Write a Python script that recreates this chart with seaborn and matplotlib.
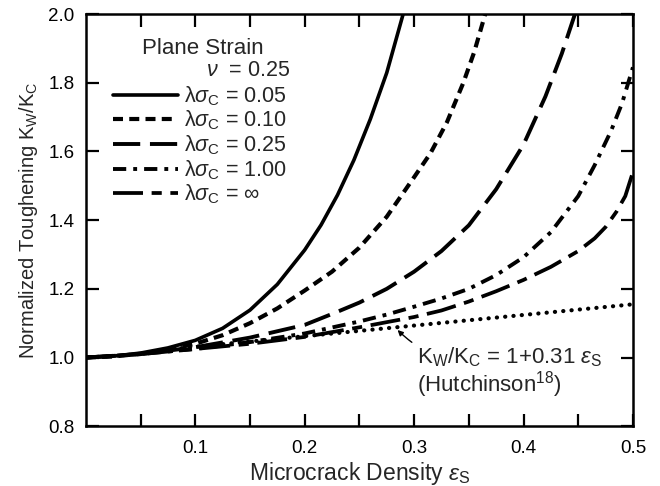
import matplotlib
matplotlib.use("Agg")
import matplotlib.pyplot as plt
import seaborn as sns
import pandas as pd

# curves (microcrack density vs normalized toughening)
eps_005 = [0, .025, .05, .075, .1, .125, .15, .175, .2, .215, .23, .245, .26, .275, .29]
k_005 = [1.0, 1.004, 1.013, 1.028, 1.05, 1.085, 1.138, 1.213, 1.313, 1.386, 1.473, 1.575, 1.694, 1.829, 2.0]

eps_010 = [0, .025, .05, .075, .1, .125, .15, .175, .2, .225, .25, .275, .3, .315, .33, .345, .355, .365]
k_010 = [1.0, 1.003, 1.011, 1.023, 1.04, 1.065, 1.10, 1.143, 1.195, 1.25, 1.32, 1.41, 1.525, 1.595, 1.685, 1.80, 1.89, 2.0]

eps_025 = [0, .05, .1, .15, .2, .229, .25, .275, .3, .325, .35, .375, .4, .42, .435, .447]
k_025 = [1.0, 1.01, 1.03, 1.058, 1.095, 1.132, 1.16, 1.20, 1.25, 1.31, 1.385, 1.49, 1.62, 1.76, 1.885, 2.0]

eps_100 = [0, .05, .1, .15, .2, .25, .275, .3, .325, .35, .375, .4, .425, .45, .465, .48, .49, .5]
k_100 = [1.0, 1.01, 1.025, 1.045, 1.07, 1.105, 1.125, 1.148, 1.172, 1.20, 1.24, 1.292, 1.365, 1.47, 1.56, 1.66, 1.74, 1.845]

eps_inf = [0, .05, .1, .15, .2, .25, .3, .325, .35, .375, .4, .425, .45, .465, .475, .485, .493, .5]
k_inf = [1.0, 1.01, 1.025, 1.04, 1.06, 1.088, 1.118, 1.137, 1.163, 1.193, 1.226, 1.264, 1.31, 1.347, 1.38, 1.425, 1.47, 1.54]

eps_hutch = [0.08, 0.5]
k_hutch = [1.025, 1.155]

labels = ["0.05", "0.10", "0.25", "1.00", r"$\infty$"]

sns.set_theme(style="ticks")
plt.rcParams["font.family"] = ["Liberation Sans", "DejaVu Sans"]
plt.rcParams["mathtext.fontset"] = "custom"
plt.rcParams["mathtext.rm"] = "Liberation Sans"
plt.rcParams["mathtext.it"] = "Liberation Sans:italic"

fig = plt.figure(figsize=(6.6, 4.86), dpi=100)
ax = fig.add_axes([0.130, 0.123, 0.829, 0.848])

curves = [
    (eps_005, k_005, None, 2.6),
    (eps_010, k_010, (2.4, 1.5), 3.0),
    (eps_025, k_025, (7.0, 2.5), 2.8),
    (eps_100, k_100, (3.4, 1.8, 1.0, 1.8), 2.8),
    (eps_inf, k_inf, (8.0, 2.3, 2.7, 2.3), 2.7),
]

handles = []
for xs, ys, dash, lw in curves:
    df = pd.DataFrame({"eps": xs, "k": ys})
    sns.lineplot(data=df, x="eps", y="k", ax=ax, color="black", lw=lw,
                 sort=False, estimator=None)
    line = ax.lines[-1]
    if dash is not None:
        line.set_dashes(dash)
    line.set_dash_capstyle("butt")
    line.set_solid_joinstyle("round")
    handles.append(line)

df_h = pd.DataFrame({"eps": eps_hutch, "k": k_hutch})
sns.lineplot(data=df_h, x="eps", y="k", ax=ax, color="black", lw=3.0,
             sort=False, estimator=None)
ax.lines[-1].set_dashes((0.05, 1.95))
ax.lines[-1].set_dash_capstyle("round")

ax.set_xlim(0, 0.5)
ax.set_ylim(0.8, 2.0)
ax.set_xticks([0.1, 0.2, 0.3, 0.4, 0.5])
ax.set_xticks([0.05, 0.15, 0.25, 0.35, 0.45], minor=True)
ax.set_yticks([0.8, 1.0, 1.2, 1.4, 1.6, 1.8, 2.0])
ax.tick_params(which="both", direction="in", length=9, width=1.6,
               top=True, right=True, labelsize=13.5, colors="black")
ax.tick_params(axis="x", pad=10)
ax.tick_params(axis="y", pad=8)
for sp in ax.spines.values():
    sp.set_linewidth(1.8)
    sp.set_color("black")

ax.set_xlabel(r"Microcrack Density $\epsilon_\mathrm{S}$", fontsize=16.5, labelpad=2)
ax.set_ylabel(r"Normalized Toughening K$_\mathrm{W}$/K$_\mathrm{C}$", fontsize=14.5, labelpad=6)

leg = ax.legend(handles, [r"$\mathrm{\lambda}\sigma_\mathrm{C}$ = " + s for s in labels],
                loc="upper left", bbox_to_anchor=(0.05, 0.83), frameon=False,
                fontsize=15.5, handlelength=3.0, handletextpad=0.3,
                labelspacing=0.05, borderpad=0, borderaxespad=0)

ax.text(0.214, 0.917, "Plane Strain", transform=ax.transAxes, ha="center",
        va="center", fontsize=16)
ax.text(0.373, 0.862, r"$\nu$  = 0.25", transform=ax.transAxes, ha="right",
        va="center", fontsize=15.5)

ax.annotate(r"K$_\mathrm{W}$/K$_\mathrm{C}$ = 1+0.31 $\epsilon_\mathrm{S}$",
            xy=(0.284, 1.083), xytext=(0.303, 1.0), fontsize=16,
            va="center", ha="left",
            arrowprops=dict(arrowstyle="-|>", color="black", lw=1.0,
                            mutation_scale=8, shrinkA=2, shrinkB=1,
                            connectionstyle="arc3,rad=-0.3"))
ax.text(0.303, 0.92, r"(Hutchinson$^{18}$)", fontsize=16, va="center", ha="left")

fig.savefig("out.png", dpi=100)
